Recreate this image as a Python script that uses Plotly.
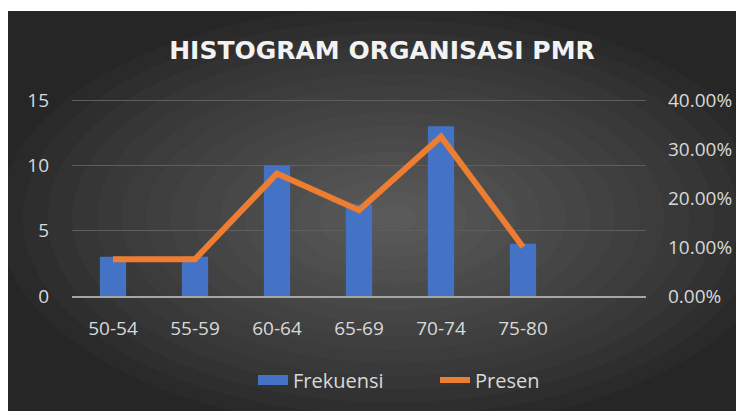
import plotly.graph_objects as go

# data
kelas = ["50-54", "55-59", "60-64", "65-69", "70-74", "75-80"]
frekuensi = [3, 3, 10, 7, 13, 4]
presen = [0.075, 0.075, 0.25, 0.175, 0.325, 0.10]

W, H = 744, 411
ML, MR, MT, MB = 64, 106, 89, 123
pw, ph = W - ML - MR, H - MT - MB
# top gridline sits 3px under the top edge so plotly keeps drawing it
pad = ph / (ph - 3)


def px_x(x):
    return (x - ML) / pw


def px_y(y):
    return (H - MB - y) / ph


fig = go.Figure()
fig.add_trace(go.Bar(
    x=kelas, y=frekuensi, name="Frekuensi", showlegend=False,
    marker=dict(color="#4472C4", line=dict(width=0)),
    width=0.32,
))
fig.add_trace(go.Scatter(
    x=kelas, y=presen, name="Presen", yaxis="y2",
    mode="lines", line=dict(color="#ED7D31", width=6),
))
# legend entry for the bars, wide swatch like the original
fig.add_trace(go.Scatter(
    x=[None], y=[None], name="Frekuensi", mode="lines",
    line=dict(color="#4472C4", width=14),
))

# dark background with a soft radial light in the middle
bx0, bx1, by0, by1 = 0, W, 3, H
shapes = [dict(type="rect", xref="paper", yref="paper", layer="below",
               x0=px_x(bx0), x1=px_x(bx1), y0=px_y(by1), y1=px_y(by0),
               fillcolor="#262626", line=dict(width=0))]
cx, cy = 385, 210
n = 16
for i in range(n):
    f = 1 - i / n
    rx = min(cx - bx0, bx1 - cx) * f
    ry = min(cy - by0, by1 - cy) * f
    shapes.append(dict(type="circle", xref="paper", yref="paper", layer="below",
                       x0=px_x(cx - rx * 1.1), x1=px_x(cx + rx * 1.1),
                       y0=px_y(cy + ry * 1.05), y1=px_y(cy - ry * 1.05),
                       fillcolor="rgba(255,255,255,0.018)", line=dict(width=0)))

tick_font = dict(family="Open Sans, sans-serif", size=19, color="#d9d9d9")

fig.update_layout(
    width=W, height=H,
    margin=dict(l=ML, r=MR, t=MT, b=MB),
    paper_bgcolor="white", plot_bgcolor="rgba(0,0,0,0)",
    shapes=shapes,
    title=dict(text="<b>HISTOGRAM ORGANISASI PMR</b>", x=374 / W, xanchor="center",
               y=1 - 42 / H, yanchor="middle",
               font=dict(family="DejaVu Sans, sans-serif", size=25, color="#f2f2f2")),
    xaxis=dict(type="category", range=[-0.5, 6.5], showgrid=False,
               showline=True, linecolor="#a6a6a6", linewidth=2,
               tickfont=tick_font, ticks="", ticklabelstandoff=14),
    yaxis=dict(range=[0, 15 * pad], tickvals=[0, 5, 10, 15], showgrid=True,
               gridcolor="#5e5e5e", gridwidth=1,
               zeroline=False, tickfont=tick_font, ticklabelstandoff=22),
    yaxis2=dict(range=[0, 0.4 * pad], tickvals=[0, 0.1, 0.2, 0.3, 0.4], tickformat=".2%",
                overlaying="y", side="right",
                showgrid=False, zeroline=False, tickfont=tick_font, ticklabelstandoff=21),
    showlegend=True,
    legend=dict(orientation="h", x=px_x(427), xanchor="center", y=px_y(372), yanchor="middle",
                font=dict(family="Open Sans, sans-serif", size=20, color="#d9d9d9"),
                bgcolor="rgba(0,0,0,0)", traceorder="reversed", entrywidth=137),
)

fig.write_html("out.html")
